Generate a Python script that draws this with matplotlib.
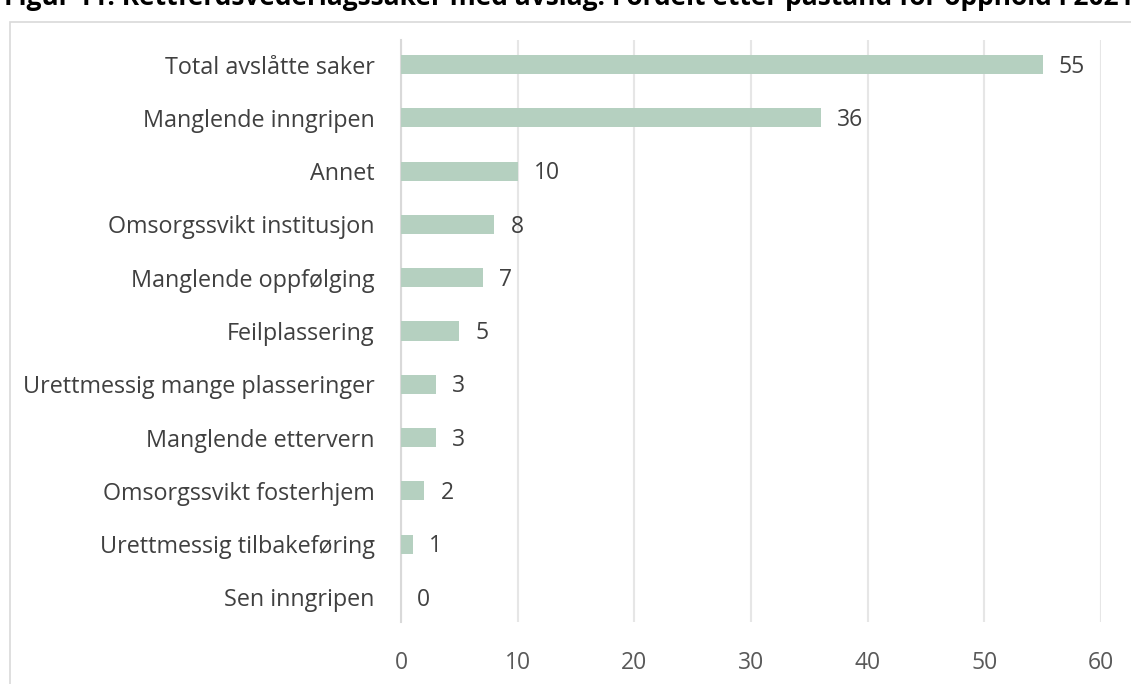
import matplotlib.pyplot as plt
from matplotlib.patches import Rectangle

# -----------------------------
# Data
# -----------------------------
categories = [
    "Total avslåtte saker",
    "Manglende inngripen",
    "Annet",
    "Omsorgssvikt institusjon",
    "Manglende oppfølging",
    "Feilplassering",
    "Urettmessig mange plasseringer",
    "Manglende ettervern",
    "Omsorgssvikt fosterhjem",
    "Urettmessig tilbakeføring",
    "Sen inngripen",
]
values = [55, 36, 10, 8, 7, 5, 3, 3, 2, 1, 0]
xticks = [0, 10, 20, 30, 40, 50, 60]
title = "Figur 11: Rettferdsvederlagssaker med avslag. Fordelt etter påstand for opphold i 2021"

plt.rcParams['font.family'] = ['Open Sans', 'DejaVu Sans']

fig = plt.figure(figsize=(11.31, 6.84), dpi=100)
ax = fig.add_axes([401/1131, 1 - 622/684, 700/1131, 582/684])

# outer chart border (cut off at right and bottom)
fig.patches.append(Rectangle((10/1131, -0.1), 1.2, 1 - 22/684 + 0.1,
                             transform=fig.transFigure, fill=False,
                             edgecolor='#D9D9D9', linewidth=1.2))

# title, clipped by the top edge like in the source
fig.text(4/1131, 1 + 3/684, title, fontsize=19, fontweight='bold',
         color='black', ha='left', va='center')

pos = list(range(len(categories)))
ax.barh(pos, values, height=0.36, color='#B5D0C0', zorder=3)

for p, v in zip(pos, values):
    ax.text(v + 1.4, p + 0.04, str(v), va='center', ha='left',
            fontsize=16.5, color='#404040')

ax.set_yticks(pos)
ax.set_yticklabels(categories, fontsize=16.8, color='#404040')
ax.set_xticks(xticks)
ax.set_xticklabels([str(t) for t in xticks], fontsize=16.5, color='#595959')
ax.set_xlim(0, 60)
ax.set_ylim(10.46, -0.46)

ax.grid(axis='x', color='#E6E6E6', linewidth=1.5, zorder=0)
ax.tick_params(axis='both', length=0)
ax.tick_params(axis='x', pad=21)
ax.tick_params(axis='y', pad=19)
for s in ['top', 'right', 'bottom']:
    ax.spines[s].set_visible(False)
ax.spines['left'].set_color('#D9D9D9')
ax.spines['left'].set_linewidth(1.5)

fig.savefig("out.png", dpi=100)
